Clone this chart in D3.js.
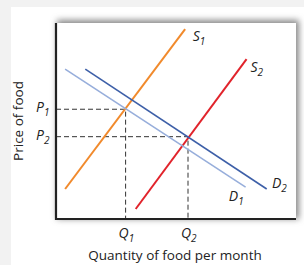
<!DOCTYPE html>
<html>
<head>
<meta charset="utf-8">
<script src="https://cdn.jsdelivr.net/npm/d3@7"></script>
<style>
  body { margin: 0; background: #f2f2f2; }
  svg { display: block; }
  text { font-family: "Open Sans", "Noto Sans", sans-serif; fill: #222; }
</style>
</head>
<body>
<script>
// curves, in 0-100 units on both axes: [x, y] end points
const curveNames = ["S1", "S2", "D1", "D2"];
const curveColors = ["#f18a2c", "#e1232b", "#97aedb", "#3d5fa8"];
const curveWidths = [2, 2, 1.6, 1.6];
const curvePoints = [
  [[3.8, 15.3], [53.8, 96.9]],
  [[33.2, 5.1], [79.4, 81.6]],
  [[3.8, 76.5], [79.0, 16.3]],
  [[12.2, 76.5], [87.8, 15.3]]
];
// where each label sits, next to the curve end
const labelAnchors = [[57, 91], [81, 75], [72, 9], [90, 16]];
const labelMain = ["S", "S", "D", "D"];
const labelSub = ["1", "2", "1", "2"];

// equilibrium prices and quantities
const eqQ = [29, 55];
const eqP = [56, 42];
const eqNames = ["1", "2"];

const W = 304, H = 265;
const svg = d3.select("body").append("svg").attr("width", W).attr("height", H);

// white panel
svg.append("rect").attr("x", 11).attr("y", 7).attr("width", W - 11).attr("height", H - 7).attr("fill", "#fff");

const defs = svg.append("defs");
const f = defs.append("filter").attr("id", "shadow").attr("x", "-10%").attr("y", "-10%").attr("width", "120%").attr("height", "120%");
f.append("feGaussianBlur").attr("stdDeviation", 3);

const pLeft = 56, pRight = 296, pTop = 23, pBottom = 219;
const x = d3.scaleLinear().domain([0, 100]).range([pLeft, pRight]);
const y = d3.scaleLinear().domain([0, 100]).range([pBottom, pTop]);

// frame with soft shadow
svg.append("rect").attr("x", pLeft + 1).attr("y", pTop - 3).attr("width", pRight - pLeft + 2).attr("height", pBottom - pTop + 3)
  .attr("fill", "#888").attr("filter", "url(#shadow)");
svg.append("rect").attr("x", pLeft).attr("y", pTop).attr("width", pRight - pLeft).attr("height", pBottom - pTop)
  .attr("fill", "#fff");

// dashed guides
const g = svg.append("g");
eqQ.forEach((q, i) => {
  g.append("path")
    .attr("d", d3.line()([[x(0), y(eqP[i])], [x(q), y(eqP[i])], [x(q), y(0)]]))
    .attr("fill", "none").attr("stroke", "#333").attr("stroke-width", 1)
    .attr("stroke-dasharray", "5,3");
});

// curves
const line = d3.line().x(d => x(d[0])).y(d => y(d[1]));
g.selectAll(".curve").data(curvePoints).join("path")
  .attr("class", "curve")
  .attr("d", line)
  .attr("fill", "none")
  .attr("stroke", (d, i) => curveColors[i])
  .attr("stroke-width", (d, i) => curveWidths[i]);

// axes
svg.append("line").attr("x1", pLeft).attr("x2", pLeft).attr("y1", pTop).attr("y2", pBottom + 1)
  .attr("stroke", "#222").attr("stroke-width", 2.2);
svg.append("line").attr("x1", pLeft - 1).attr("x2", pRight).attr("y1", pBottom).attr("y2", pBottom)
  .attr("stroke", "#222").attr("stroke-width", 2.2);

function subLabel(sel, main, sub) {
  sel.append("tspan").text(main);
  sel.append("tspan").attr("font-size", 10).attr("dy", 4).text(sub);
}

// curve labels
labelAnchors.forEach((a, i) => {
  const t = svg.append("text").attr("x", x(a[0])).attr("y", y(a[1])).attr("font-size", 14)
    .attr("font-style", "italic");
  subLabel(t, labelMain[i], labelSub[i]);
});

// P labels
eqP.forEach((p, i) => {
  const t = svg.append("text").attr("x", pLeft - 20).attr("y", y(p) + 3).attr("font-size", 14)
    .attr("font-style", "italic");
  subLabel(t, "P", eqNames[i]);
});

// Q labels
eqQ.forEach((q, i) => {
  const t = svg.append("text").attr("x", x(q) - 7).attr("y", pBottom + 19).attr("font-size", 14)
    .attr("font-style", "italic");
  subLabel(t, "Q", eqNames[i]);
});

// axis titles
svg.append("text").attr("x", (pLeft + pRight) / 2 - 1).attr("y", 260).attr("text-anchor", "middle")
  .attr("font-size", 13.5).text("Quantity of food per month");
svg.append("text").attr("transform", `translate(23, ${(pTop + pBottom) / 2}) rotate(-90)`)
  .attr("text-anchor", "middle").attr("font-size", 13.5).text("Price of food");
</script>
</body>
</html>
